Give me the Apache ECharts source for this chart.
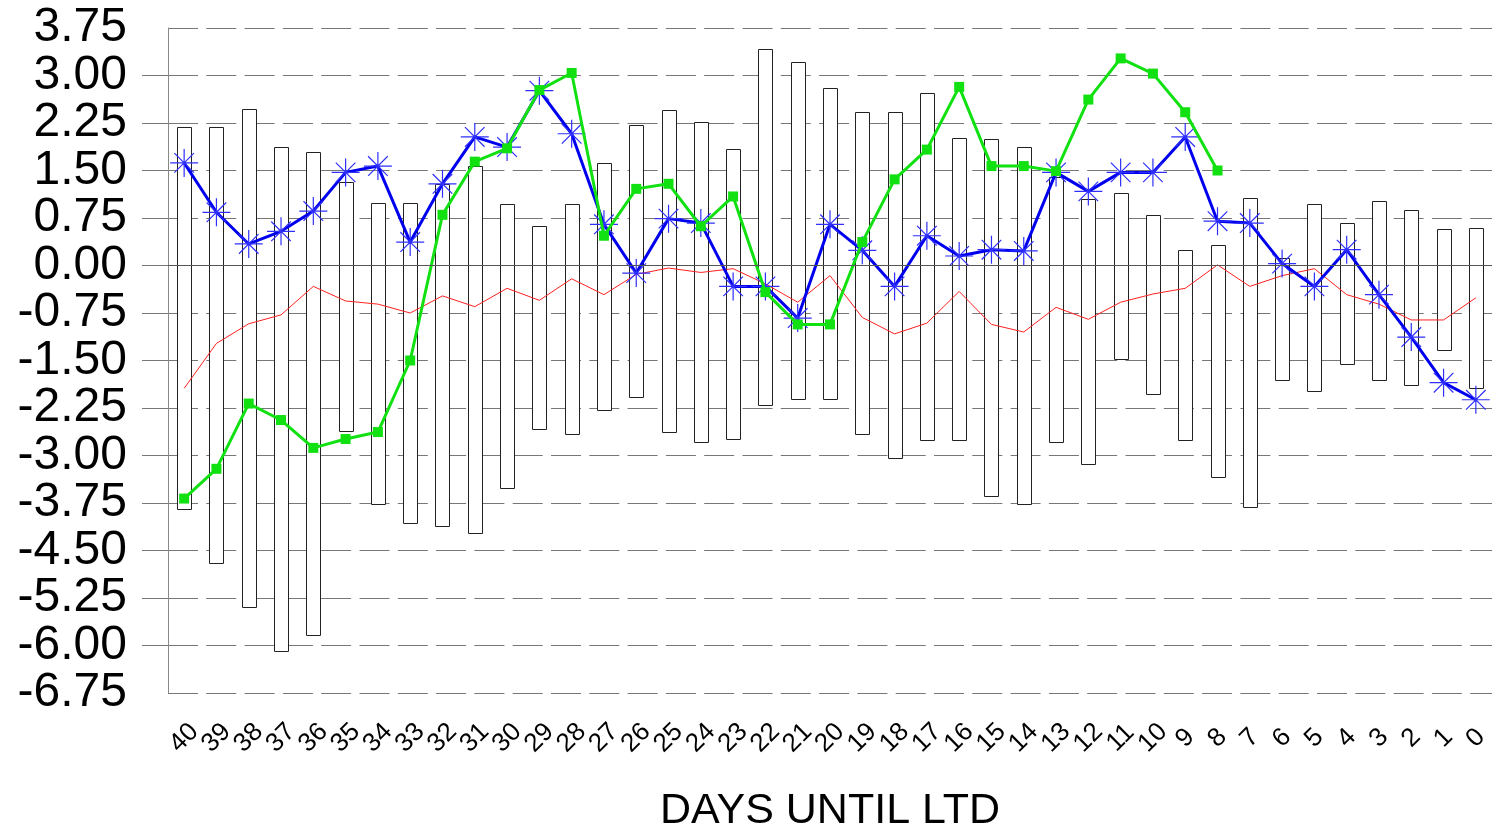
<!DOCTYPE html>
<html>
<head>
<meta charset="utf-8">
<script src="https://cdn.jsdelivr.net/npm/echarts@6/dist/echarts.min.js"></script>
<style>
html,body{margin:0;padding:0;background:#fff;}
#chart{width:1492px;height:829px;}
</style>
</head>
<body>
<div id="chart"></div>
<script>
const categories = ['40','39','38','37','36','35','34','33','32','31','30','29','28','27','26','25','24','23','22','21','20','19','18','17','16','15','14','13','12','11','10','9','8','7','6','5','4','3','2','1','0'];

const barHigh = [2.19,2.19,2.47,1.87,1.79,1.32,0.99,0.99,1.29,1.57,
  0.97,0.62,0.97,1.62,2.22,2.45,2.27,1.84,3.42,3.22,
  2.80,2.42,2.42,2.72,2.02,1.99,1.87,1.40,1.05,1.14,
  0.80,0.24,0.32,1.07,0.12,0.97,0.67,1.02,0.87,0.57,0.60];

const barLow = [-3.84,-4.69,-5.39,-6.09,-5.84,-2.61,-3.76,-4.06,-4.11,-4.22,
  -3.51,-2.58,-2.66,-2.28,-2.08,-2.63,-2.78,-2.74,-2.21,-2.11,
  -2.11,-2.66,-3.04,-2.76,-2.76,-3.64,-3.76,-2.78,-3.13,-1.48,
  -2.03,-2.76,-3.34,-3.81,-1.80,-1.98,-1.56,-1.80,-1.88,-1.33,-1.93];

const blueValues = [1.62,0.84,0.34,0.54,0.86,1.47,1.57,0.37,1.29,2.03,
  1.87,2.76,2.08,0.65,-0.12,0.74,0.67,-0.33,-0.33,-0.83,
  0.65,0.24,-0.33,0.47,0.15,0.25,0.23,1.47,1.17,1.47,
  1.47,2.03,0.70,0.67,0.03,-0.33,0.25,-0.46,-1.13,-1.85,-2.12];

const greenValues = [-3.68,-3.21,-2.18,-2.44,-2.88,-2.74,-2.63,-1.50,0.80,1.64,
  1.85,2.77,3.04,0.47,1.21,1.29,0.62,1.09,-0.42,-0.93,
  -0.93,0.37,1.36,1.83,2.82,1.57,1.57,1.49,2.62,3.27,
  3.03,2.42,1.50,null,null,null,null,null,null,null,null];

const redValues = [-1.94,-1.23,-0.92,-0.78,-0.33,-0.56,-0.61,-0.75,-0.48,-0.65,
  -0.36,-0.55,-0.21,-0.46,-0.14,-0.04,-0.11,-0.05,-0.29,-0.58,
  -0.16,-0.82,-1.08,-0.91,-0.41,-0.93,-1.05,-0.66,-0.85,-0.58,
  -0.45,-0.36,0.01,-0.33,-0.16,-0.05,-0.46,-0.61,-0.86,-0.86,-0.51];

const Y_MIN = -6.75, Y_MAX = 3.75, Y_STEP = 0.75;

const FONT = "'Liberation Sans', Arial, sans-serif";
const chart = echarts.init(document.getElementById('chart'));

const barData = categories.map((c, i) => [i, barLow[i], barHigh[i]]);
const fmt = v => (Math.abs(v) < 1e-9 ? 0 : v).toFixed(2);
const isEnd = v => Math.abs(v - Y_MIN) < 1e-6 || Math.abs(v - Y_MAX) < 1e-6;

const option = {
  animation: false,
  backgroundColor: '#fff',
  grid: {left: 168, right: 0, top: 28, bottom: 136, containLabel: false, outerBoundsMode: 'none'},
  xAxis: [{
    type: 'category',
    data: categories,
    boundaryGap: true,
    name: 'DAYS UNTIL LTD',
    nameLocation: 'middle',
    nameGap: 97,
    nameTextStyle: {fontSize: 43, color: '#000', fontFamily: FONT},
    axisLine: {show: true, lineStyle: {color: '#666', width: 1}},
    axisTick: {show: true, alignWithLabel: true, length: 13, lineStyle: {color: '#777'}},
    axisLabel: {
      interval: 0, rotate: 45, fontSize: 26, color: '#000', fontFamily: FONT,
      margin: 45, align: 'center', verticalAlign: 'middle', hideOverlap: false
    },
    splitLine: {show: false}
  }, {
    type: 'category',
    data: categories,
    position: 'top',
    axisLine: {show: true, lineStyle: {color: '#666', width: 1}},
    axisTick: {show: false},
    axisLabel: {show: false},
    splitLine: {show: false}
  }],
  yAxis: [{
    type: 'value',
    min: Y_MIN,
    max: Y_MAX,
    interval: Y_STEP,
    axisLine: {show: true, lineStyle: {color: '#888', width: 1}},
    axisTick: {show: true, length: 26, lineStyle: {color: '#777'}},
    axisLabel: {
      fontSize: 48, lineHeight: 40, color: '#000', fontFamily: FONT, margin: 41,
      showMinLabel: false, showMaxLabel: false, hideOverlap: false,
      formatter: v => isEnd(v) ? '' : fmt(v)
    },
    splitLine: {show: true, lineStyle: {color: '#777', width: 1, type: [30, 8.3]}}
  }, {
    type: 'value',
    position: 'left',
    offset: 0,
    min: Y_MIN,
    max: Y_MAX,
    interval: Y_STEP,
    axisLine: {show: false},
    axisTick: {show: false},
    splitLine: {show: false},
    axisLabel: {
      fontSize: 48, lineHeight: 40, color: '#000', fontFamily: FONT, margin: 41,
      showMinLabel: true, showMaxLabel: true, hideOverlap: false,
      formatter: v => isEnd(v) ? fmt(v) : ''
    }
  }],
  series: [
    {
      type: 'custom',
      z: 1,
      data: barData,
      encode: {x: 0, y: [1, 2]},
      renderItem: function (params, api) {
        const idx = api.value(0);
        const lo = api.coord([idx, api.value(1)]);
        const hi = api.coord([idx, api.value(2)]);
        const w = 14;
        const x = Math.round(lo[0] - w / 2) + 0.5;
        const y = Math.round(hi[1]) + 0.5;
        const h = Math.round(lo[1]) - Math.round(hi[1]);
        return {
          type: 'rect',
          shape: {x: x, y: y, width: w, height: h},
          style: {fill: '#fff', stroke: '#222', lineWidth: 1}
        };
      }
    },
    {
      type: 'line',
      z: 2,
      data: redValues,
      symbol: 'none',
      lineStyle: {color: '#ff2020', width: 1},
      markLine: {
        silent: true,
        symbol: 'none',
        label: {show: false},
        lineStyle: {color: '#555', width: 1, type: 'solid'},
        data: [{yAxis: 0}]
      }
    },
    {
      type: 'line',
      z: 3,
      data: blueValues,
      showAllSymbol: true,
      symbol: 'path://M50,0 L50,100 M0,50 L100,50 M15,15 L85,85 M85,15 L15,85',
      symbolSize: 28,
      lineStyle: {color: '#0000ee', width: 3},
      itemStyle: {color: 'rgba(0,0,0,0)', borderColor: '#2f2fff', borderWidth: 1.2}
    },
    {
      type: 'line',
      z: 4,
      data: greenValues,
      showAllSymbol: true,
      connectNulls: false,
      symbol: 'rect',
      symbolSize: 10,
      lineStyle: {color: '#11e011', width: 3},
      itemStyle: {color: '#11e011', borderWidth: 0}
    }
  ]
};
chart.setOption(option);
</script>
</body>
</html>
